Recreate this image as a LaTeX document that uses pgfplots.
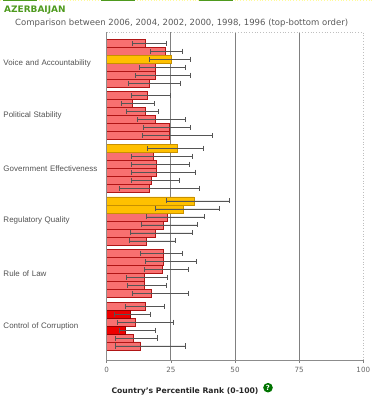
\documentclass[border=0pt]{standalone}
\usepackage{pgfplots}
\pgfplotsset{compat=1.18}
\usepackage{pgfplotstable}
\usepackage{fontspec}
\setmainfont{DejaVu Sans}
\newfontfamily\arial{Liberation Sans}
\definecolor{lred}{HTML}{F87070}
\definecolor{lredb}{HTML}{B01515}
\definecolor{orng}{HTML}{FFC000}
\definecolor{orngb}{HTML}{C89000}
\definecolor{dred}{HTML}{EE0000}
\definecolor{dredb}{HTML}{990000}
\definecolor{ttl}{HTML}{4E9A1E}
\definecolor{errc}{HTML}{555555}

% y = bar centre (each bar 1 unit, 6 bars per indicator: 2006 ... 1996 top to bottom)
% val = percentile rank, lo/hi = margin of error bounds
\pgfplotstableread{
y val lo hi
-0.5 14.9 9.9 23.4
-1.5 23.0 17.1 29.6
-3.5 19.1 12.7 30.6
-4.5 19.1 11.1 32.5
-5.5 16.6 8.4 28.7
-7.075 15.7 9.5 24.9
-8.075 10.1 5.5 18.6
-9.075 15.0 7.8 20.0
-10.075 19.0 11.9 30.8
-11.075 24.3 14.3 32.5
-12.075 24.3 13.8 41.2
-14.65 18.2 9.7 33.4
-15.65 19.3 9.7 32.0
-16.65 19.3 9.7 34.4
-17.65 17.5 9.7 28.3
-18.65 16.6 5.1 36.0
-22.225 23.8 15.4 38.0
-23.225 22.2 13.6 35.3
-24.225 19.0 9.2 33.4
-25.225 15.6 8.8 26.7
-26.8 22.2 12.9 29.5
-27.8 22.2 15.2 35.1
-28.8 21.7 14.7 31.8
-29.8 14.7 7.6 23.8
-30.8 14.7 8.0 23.2
-31.8 17.5 10.0 31.8
-33.375 15.0 7.1 22.4
-35.375 11.0 4.1 26.0
-37.375 10.2 3.2 19.9
-38.375 13.2 3.2 30.5
}\lightred

\pgfplotstableread{
y val lo hi
-2.5 25.3 16.6 32.5
-13.65 27.5 16.0 37.8
-20.225 34.1 23.4 47.8
-21.225 30.0 19.0 43.8
}\orange

\pgfplotstableread{
y val lo hi
-34.375 9.2 3.0 16.9
-36.375 7.1 4.9 19.0
}\darkred

\pgfplotsset{
  mybar/.style={xbar, bar width=1, /pgf/bar shift=0pt, line width=0.6bp,
    error bars/x dir=both, error bars/x explicit,
    error bars/error bar style={errc, line width=0.6bp},
    error bars/error mark=|,
    error bars/error mark options={errc, mark size=2.5bp, line width=0.6bp}},
}

\begin{document}
\begin{tikzpicture}
\path[use as bounding box] (0bp,0bp) rectangle (373bp,400bp);
% top strip
\draw[dotted, color=yellow!40!white, line width=0.8bp] (0bp,399.5bp) -- (373bp,399.5bp);
\fill[ttl] (3bp,398.8bp) rectangle (37bp,400bp);
\fill[ttl] (101bp,398.8bp) rectangle (135bp,400bp);
\fill[ttl] (199bp,398.8bp) rectangle (233bp,400bp);
% titles
\node[anchor=base west, inner sep=0pt, text=ttl, font=\bfseries\fontsize{9}{10}\selectfont] at (4bp,387.3bp) {AZERBAIJAN};
\node[anchor=base west, inner sep=0pt, text=black!65, font=\fontsize{8.55}{10}\selectfont] at (15bp,374bp) {Comparison between 2006, 2004, 2002, 2000, 1998, 1996 (top-bottom order)};

\begin{axis}[
  at={(106.7bp,40bp)}, anchor=south west,
  scale only axis, width=256.6bp, height=327.7bp,
  xmin=0, xmax=100, ymin=-40.125, ymax=0.84,
  axis line style={draw=none},
  xtick={25,50,75}, extra x ticks={0,100},
  extra x tick style={grid=none},
  xmajorgrids, grid style={color=black!50, line width=0.8bp},
  xtick pos=left, tick align=outside, major tick length=3bp,
  xtick style={color=black!50, line width=0.6bp},
  xticklabel style={text=black!60, font=\fontsize{7.2}{8}\selectfont, yshift=-0.5bp},
  /pgf/number format/assume math mode=true,
  ytick={-3,-9.575,-16.15,-22.725,-29.3,-35.875},
  yticklabels={Voice and Accountability, Political Stability, Government Effectiveness, Regulatory Quality, Rule of Law, Control of Corruption},
  ytick style={draw=none},
  yticklabel style={anchor=east, text width=96bp, align=left, inner sep=0pt, xshift=-4bp,
     text=black!68, font=\arial\fontsize{8}{9.6}\selectfont},
  clip=false,
]
\addplot[mybar, fill=lred, draw=lredb] table[x=val, y=y,
  x error plus expr=\thisrow{hi}-\thisrow{val},
  x error minus expr=\thisrow{val}-\thisrow{lo}] {\lightred};
\addplot[mybar, fill=orng, draw=orngb] table[x=val, y=y,
  x error plus expr=\thisrow{hi}-\thisrow{val},
  x error minus expr=\thisrow{val}-\thisrow{lo}] {\orange};
\addplot[mybar, fill=dred, draw=dredb] table[x=val, y=y,
  x error plus expr=\thisrow{hi}-\thisrow{val},
  x error minus expr=\thisrow{val}-\thisrow{lo}] {\darkred};
% frame
\draw[black!45, line width=0.8bp] (axis cs:0,0.84) -- (axis cs:0,-40.125) -- (axis cs:100,-40.125);
\draw[black!25, dotted, line width=0.8bp] (axis cs:0,0.84) -- (axis cs:100,0.84) -- (axis cs:100,-40.125);
\end{axis}

% x label
\node[anchor=base, inner sep=0pt, text=black!85, font=\bfseries\fontsize{7.7}{9}\selectfont] at (185bp,6.7bp) {Country's Percentile Rank (0-100)};
\fill[green!45!black] (268bp,12.3bp) circle (4.8bp);
\node[text=white, inner sep=0pt, font=\bfseries\fontsize{7}{8}\selectfont] at (268bp,12.3bp) {?};
\end{tikzpicture}
\end{document}
